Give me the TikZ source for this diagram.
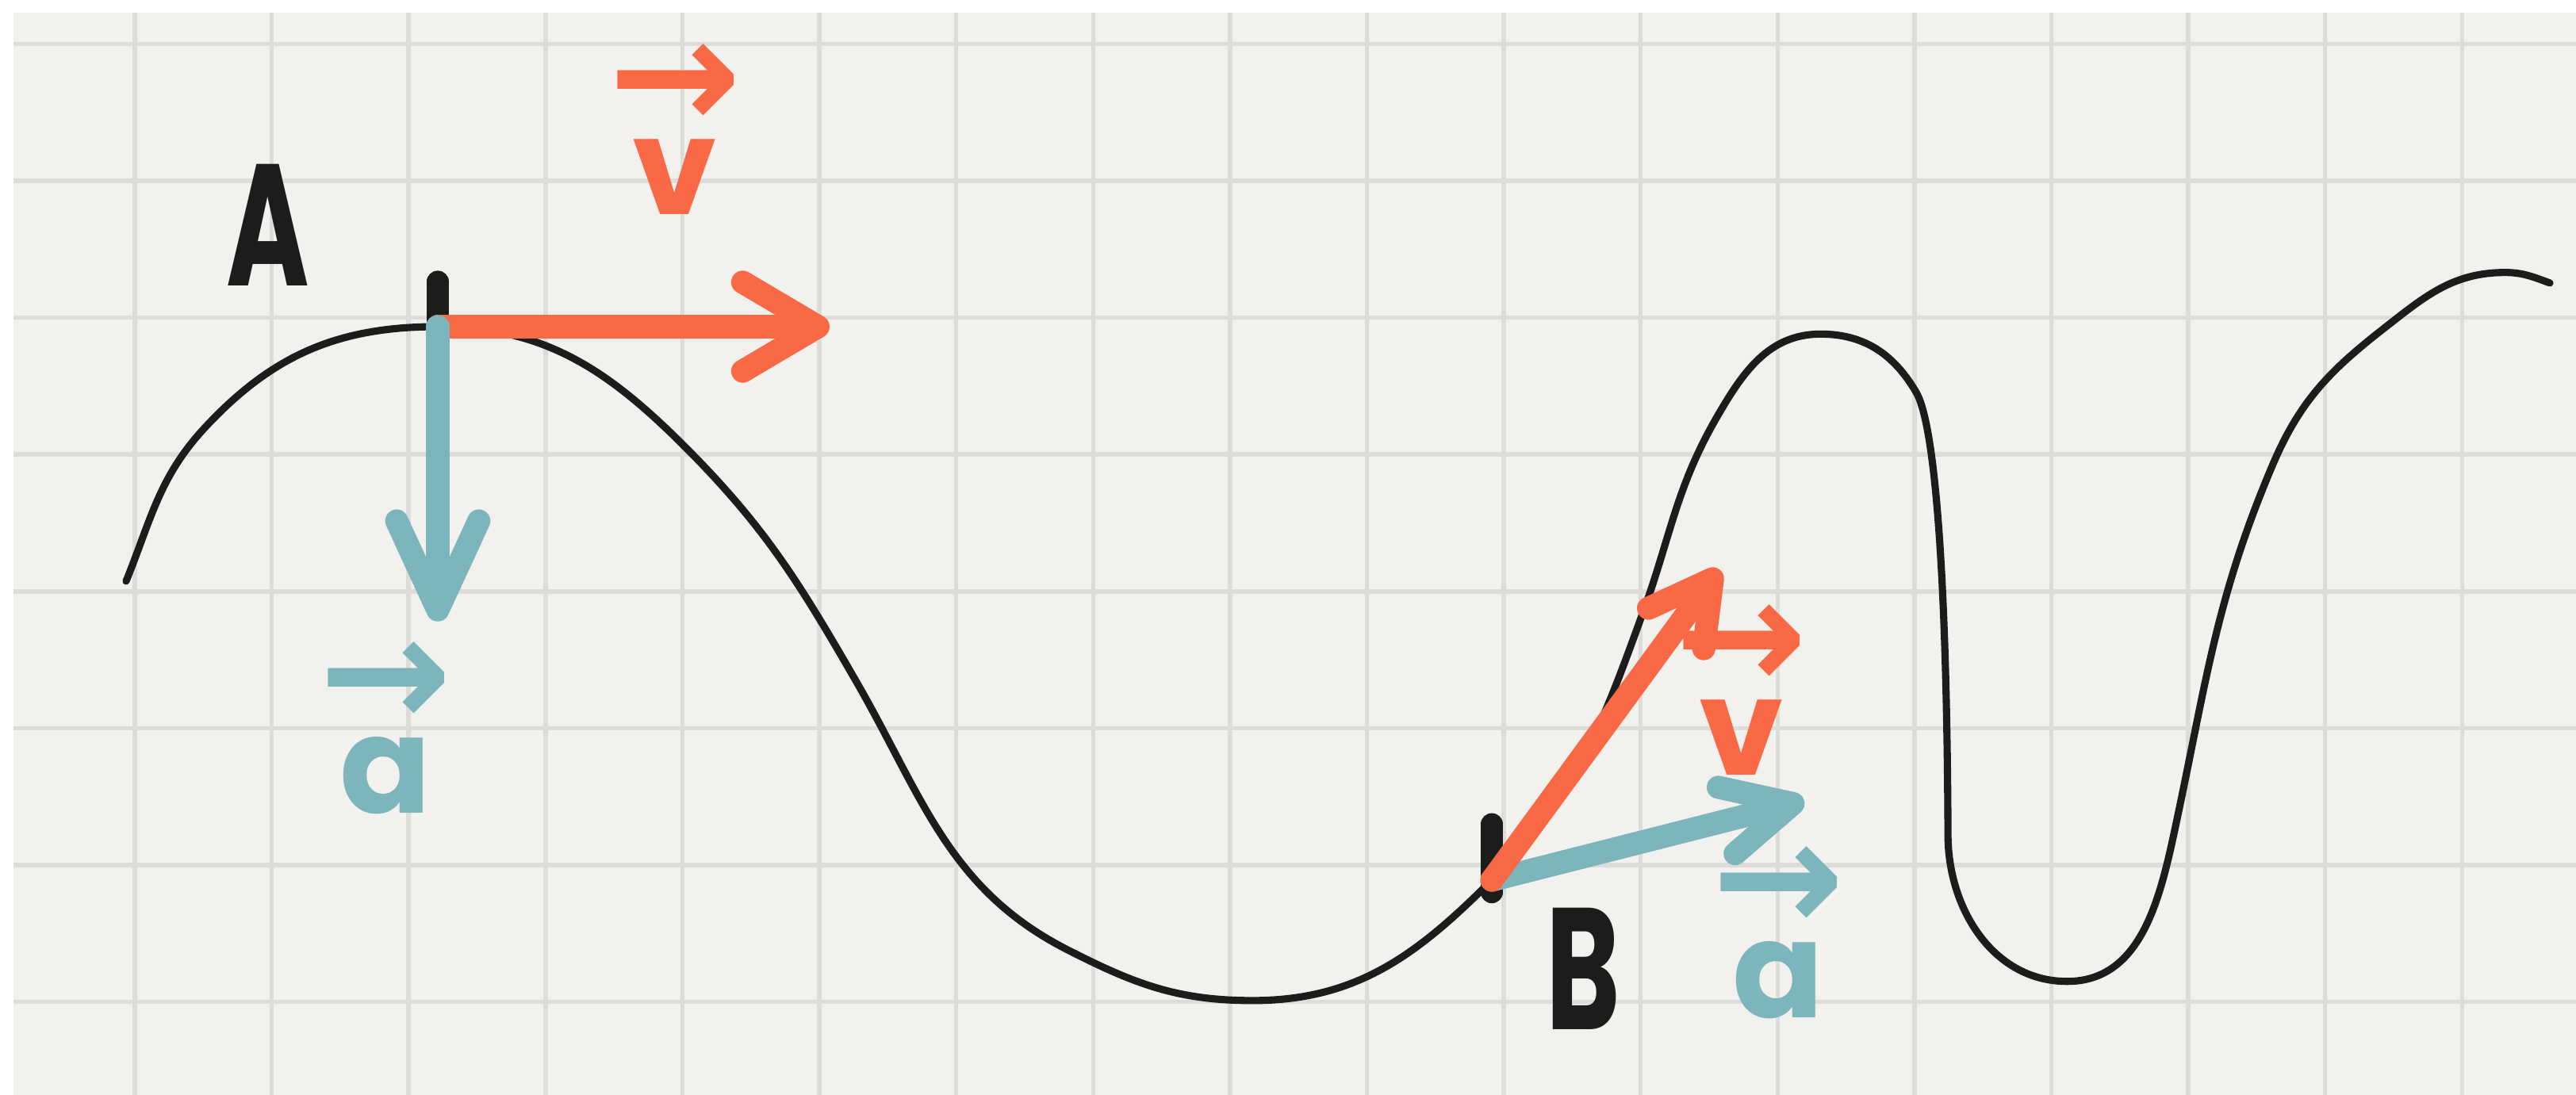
\documentclass[tikz,border=0pt]{standalone}
\usepackage{fontspec}
\setmainfont{Poppins}
\newfontfamily\arrowfont{DejaVu Sans}
\usepackage{tikz}
\usetikzlibrary{arrows.meta}
\definecolor{paper}{HTML}{F3F1EE}
\definecolor{gridgray}{HTML}{DEDCD9}
\definecolor{ink}{HTML}{1C1C1C}
\definecolor{velred}{HTML}{FA6945}
\definecolor{accblue}{HTML}{7DB5BC}
\newcommand{\vecname}[1]{\shortstack{{\arrowfont\fontsize{33}{33}\selectfont →}\\[-1pt]#1}}

\begin{document}
\begin{tikzpicture}[every node/.style={inner sep=0pt}, gridline/.style={draw=gridgray, line width=0.9pt}, track/.style={draw=ink, line width=1.5pt, line cap=round, line join=round}, tickmark/.style={draw=ink, line width=4.5pt, line cap=round}, vel/.style={draw=velred, line width=4.8pt, line cap=round}, acc/.style={draw=accblue, line width=4.8pt, line cap=round}, letter/.style={text=ink, font=\fontsize{36}{40}\selectfont\bfseries}, veclab/.style={font=\fontsize{28}{30}\selectfont\bfseries}]
\useasboundingbox (0,0) rectangle (18.818,8.001);
\fill[paper] (0.098,0) rectangle (18.818,7.908);
\foreach \x in {0,...,17} \draw[gridline] ({0.985+\x},0) -- ({0.985+\x},7.908);
\foreach \y in {0,...,7} \draw[gridline] (0.098,{0.68+\y}) -- (18.818,{0.68+\y});
\coordinate (A) at (3.198,5.614);
\coordinate (B) at (10.898,1.570);
\coordinate (velAend) at (6.06,5.614);
\coordinate (accAend) at (3.198,3.46);
\coordinate (velBend) at (12.56,3.84);
\coordinate (accBend) at (13.18,2.15);
\draw[track] (0.921,3.754) to[out=68,in=227] (1.5,4.88) to[out=47,in=180] (A) to[out=0,in=135] (5.0,4.74) to[out=-45,in=120] (6.25,3.03) to[out=-60,in=153] (7.8,1.06) to[out=-27,in=180] (9.15,0.69) to[out=0,in=225] (B) to[out=45,in=250] (12.0,3.52) to[out=70,in=240] (12.54,4.95) to[out=60,in=180] (13.3,5.56) to[out=0,in=120] (14.0,5.13) .. controls (14.1,4.957) and (14.22,4.2) .. (14.23,1.9) to[out=-90,in=180] (15.1,0.83) to[out=0,in=258] (15.9,2.0) to[out=78,in=247] (16.6,4.6) to[out=67,in=218] (17.4,5.59) to[out=38,in=180] (18.3,6.01) to[out=0,in=160] (18.627,5.933);
\draw[tickmark] ([yshift=3.3mm]A) -- ([yshift=-3.3mm]A);
\draw[tickmark] ([yshift=4.1mm]B) -- ([yshift=-0.9mm]B);
\draw[vel, -{Straight Barb[round, length=5.5mm, width=6.5mm]}] (A) -- (velAend);
\draw[acc, -{Straight Barb[round, length=6.5mm, width=6mm]}] (A) -- (accAend);
\draw[acc, -{Straight Barb[round, length=5mm, width=5mm]}] (B) -- (accBend);
\draw[vel, -{Straight Barb[round, length=4.5mm, width=5mm]}] (B) -- (velBend);
\node[letter] (nameA) at (1.958,6.356) {\scalebox{0.65}[1]{A}};
\node[letter] (nameB) at (11.564,0.921) {\scalebox{0.65}[1]{B}};
\node[veclab, text=velred] (velA) at (4.93,7.056) {\vecname{v}};
\node[veclab, text=accblue] (accA) at (2.816,2.682) {\vecname{a}};
\node[veclab, text=velred] (velB) at (12.72,2.96) {\vecname{v}};
\node[veclab, text=accblue] (accB) at (12.99,1.188) {\vecname{a}};
\end{tikzpicture}
\end{document}
